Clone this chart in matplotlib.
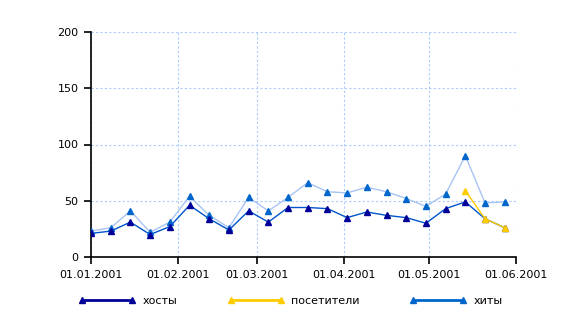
import datetime as dt
import matplotlib
matplotlib.use("Agg")
import matplotlib.pyplot as plt
import matplotlib.dates as mdates
from matplotlib.lines import Line2D

# weekly points, 01.01.2001 .. 28.05.2001
weeks = [dt.date(2001, 1, 1) + dt.timedelta(days=7 * i) for i in range(22)]

hosts = [21, 23, 31, 20, 27, 46, 34, 24, 41, 31, 44, 44, 43, 35, 40, 37, 35, 30, 43, 49, 34, 26]
hits = [23, 26, 41, 22, 31, 54, 37, 26, 53, 41, 53, 66, 58, 57, 62, 58, 52, 45, 56, 90, 48, 49]
visitor_weeks = weeks[-3:]
visitors = [59, 34, 26]

labels = ["хосты", "посетители", "хиты"]
tick_dates = [dt.date(2001, m, 1) for m in range(1, 7)]

fig = plt.figure(figsize=(5.71, 3.28), dpi=100)
ax = fig.add_axes([91 / 571, 71 / 328, 425 / 571, 225 / 328])

ax.plot(weeks, hits, color="#a8c4f4", lw=1, marker="^", ms=5,
        mfc="#0066cc", mec="#0066cc", zorder=3)
ax.plot(weeks, hosts, color="#0055cc", lw=1, marker="^", ms=5,
        mfc="#000099", mec="#000099", zorder=4)
ax.plot(visitor_weeks, visitors, color="#ffcc00", lw=1, marker="^", ms=5,
        mfc="#ffcc00", mec="#ffcc00", zorder=5)

ax.set_xlim(tick_dates[0], tick_dates[-1])
ax.set_ylim(0, 200)
ax.set_yticks([0, 50, 100, 150, 200])
ax.set_xticks(tick_dates)
ax.xaxis.set_major_formatter(mdates.DateFormatter("%d.%m.%Y"))

ax.grid(True, color="#aaccff", ls=(0, (2, 2)), lw=0.8)
ax.set_axisbelow(True)
for s in ["top", "right"]:
    ax.spines[s].set_visible(False)
ax.spines["left"].set_linewidth(1.2)
ax.spines["bottom"].set_linewidth(1.2)
ax.tick_params(length=5, width=1.2, labelsize=8, pad=4)

handles = [
    Line2D([], [], color="#000099", lw=2, marker="^", ms=5),
    Line2D([], [], color="#ffcc00", lw=2, marker="^", ms=5),
    Line2D([], [], color="#0066cc", lw=2, marker="^", ms=5),
]
fig.legend(handles, labels, ncol=3, numpoints=2, frameon=False, fontsize=8,
           loc="center left", bbox_to_anchor=(69 / 571, 1 - 301 / 328),
           handlelength=5.1, handletextpad=0.6, columnspacing=4.55)

fig.savefig("out.png", dpi=100)
